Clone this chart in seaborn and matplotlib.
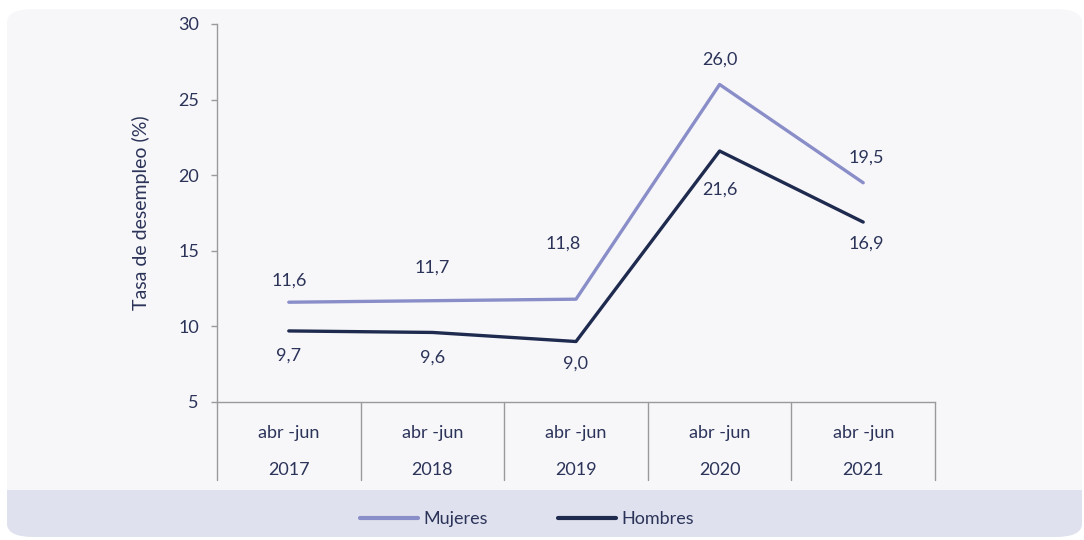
import pandas as pd
import numpy as np
import matplotlib
matplotlib.use('Agg')
import matplotlib.pyplot as plt
import seaborn as sns
from matplotlib.patches import FancyBboxPatch, Rectangle
from matplotlib.lines import Line2D

# data
periods = ['abr -jun', 'abr -jun', 'abr -jun', 'abr -jun', 'abr -jun']
years = ['2017', '2018', '2019', '2020', '2021']
mujeres = [11.6, 11.7, 11.8, 26.0, 19.5]
hombres = [9.7, 9.6, 9.0, 21.6, 16.9]
y_ticks = [5, 10, 15, 20, 25, 30]

# label offsets in pixels (dx, dy)
muj_off = [(0, 22), (0, 33), (-13, 56), (0, 25), (3, 25)]
hom_off = [(0, -25), (0, -25), (0, -22), (0, -39), (3, -22)]

c_muj = '#8a8ec8'
c_hom = '#1f2a4f'
c_text = '#2b3358'
c_axis = '#9a9a9a'
fs = 13

sns.set_style('white')
plt.rcParams['font.family'] = ['Lato', 'DejaVu Sans']

df = pd.DataFrame({
    'x': list(range(len(years))) * 2,
    'tasa': mujeres + hombres,
    'serie': ['Mujeres'] * len(years) + ['Hombres'] * len(years),
})

fig = plt.figure(figsize=(10.84, 5.40), dpi=100)
fig.patch.set_facecolor('white')

# background panel and legend band
panel = FancyBboxPatch((7 / 1084, 3 / 540), 1075 / 1084, 528 / 540,
                       boxstyle='round,pad=0,rounding_size=0.025',
                       transform=fig.transFigure, facecolor='#f7f7fa',
                       edgecolor='none', zorder=-3, mutation_aspect=540 / 1084 * 2)
fig.patches.append(panel)
band = FancyBboxPatch((7 / 1084, 3 / 540), 1075 / 1084, 47 / 540,
                      boxstyle='round,pad=0,rounding_size=0.025',
                      transform=fig.transFigure, facecolor='#dfe1ee',
                      edgecolor='none', zorder=-2, mutation_aspect=540 / 1084 * 2)
fig.patches.append(band)
fig.patches.append(Rectangle((7 / 1084, 25 / 540), 1075 / 1084, 25 / 540,
                             transform=fig.transFigure, facecolor='#dfe1ee',
                             edgecolor='none', zorder=-2))

ax = fig.add_axes([217 / 1084, 1 - 402 / 540, 718 / 1084, 378 / 540])
ax.set_facecolor('none')
ax.set_zorder(2)

sns.lineplot(data=df, x='x', y='tasa', hue='serie',
             palette={'Mujeres': c_muj, 'Hombres': c_hom},
             linewidth=2.4, ax=ax, legend=False)

ax.set_xlim(-0.5, len(years) - 0.5)
ax.set_ylim(5, 30)
ax.set_yticks(y_ticks)
ax.set_yticklabels([str(t) for t in y_ticks], fontsize=fs, color=c_text)
ax.tick_params(axis='y', left=True, length=4, width=1, color=c_axis, pad=9)
ax.set_xticks([])
ax.set_xlabel('')
ax.set_ylabel('Tasa de desempleo (%)', fontsize=fs + 1, color=c_text, labelpad=20)

for s in ['top', 'right']:
    ax.spines[s].set_visible(False)
for s in ['left', 'bottom']:
    ax.spines[s].set_color(c_axis)
    ax.spines[s].set_linewidth(1)

# category table under the axis
for i in range(len(years) + 1):
    ax.add_line(Line2D([i - 0.5, i - 0.5], [0, -78 / 378], color=c_axis, lw=1,
                       transform=ax.get_xaxis_transform(), clip_on=False))
for i, (p, yr) in enumerate(zip(periods, years)):
    ax.text(i, -31 / 378, p, transform=ax.get_xaxis_transform(), ha='center',
            va='center', fontsize=fs, color=c_text)
    ax.text(i, -68 / 378, yr, transform=ax.get_xaxis_transform(), ha='center',
            va='center', fontsize=fs, color=c_text)

# value labels
for i, (v, (dx, dy)) in enumerate(zip(mujeres, muj_off)):
    ax.annotate(f'{v:.1f}'.replace('.', ','), (i, v), xytext=(dx * 0.72, dy * 0.72),
                textcoords='offset points', ha='center', va='center',
                fontsize=fs, color=c_text)
for i, (v, (dx, dy)) in enumerate(zip(hombres, hom_off)):
    ax.annotate(f'{v:.1f}'.replace('.', ','), (i, v), xytext=(dx * 0.72, dy * 0.72),
                textcoords='offset points', ha='center', va='center',
                fontsize=fs, color=c_text)

handles = [Line2D([], [], color=c_muj, lw=3, solid_capstyle='round'),
           Line2D([], [], color=c_hom, lw=3, solid_capstyle='round')]
fig.legend(handles, ['Mujeres', 'Hombres'], loc='center', ncol=2,
           bbox_to_anchor=(527 / 1084, 1 - 519 / 540), frameon=False,
           fontsize=fs, labelcolor=c_text, handlelength=3.2, handletextpad=0.3,
           columnspacing=3.9)

fig.savefig('out.png', dpi=100, facecolor='white')
